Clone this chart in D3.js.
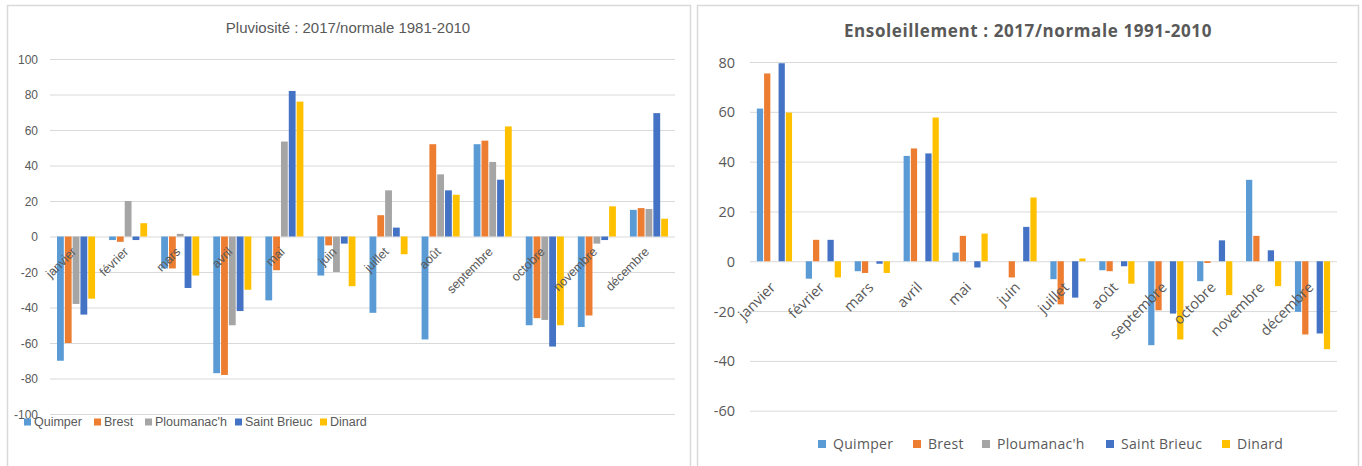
<!DOCTYPE html>
<html><head><meta charset="utf-8">
<script src="https://cdn.jsdelivr.net/npm/d3@7"></script>
<style>
html,body{margin:0;padding:0;background:#fff;}
svg{display:block;}
</style></head>
<body>
<svg id="chart" width="1362" height="466"></svg>
<script>
// ---------- DATA ----------
const months = ["janvier","février","mars","avril","mai","juin","juillet","août","septembre","octobre","novembre","décembre"];
const stations = ["Quimper","Brest","Ploumanac'h","Saint Brieuc","Dinard"];
const stationColors = ["#5B9BD5","#ED7D31","#A5A5A5","#4472C4","#FFC000"];

// Pluviosité : 2017 / normale 1981-2010 (%)
const rainQuimper     = [-70, -2, -18, -77, -36, -22, -43, -58, 52, -50, -51, 15];
const rainBrest       = [-60, -3, -18, -78, -19, -5, 12, 52, 54, -46, -44.5, 16];
const rainPloumanach  = [-38, 20, 1.5, -50, 53.5, -20, 26, 35, 42, -47, -4, 15.5];
const rainSaintBrieuc = [-44, -2, -29, -42, 82, -4, 5, 26, 32, -62, -2, 69.5];
const rainDinard      = [-35, 7.5, -22, -30, 76, -28, -10, 23.5, 62, -50, 17, 10];
const rainTicks = [100, 80, 60, 40, 20, 0, -20, -40, -60, -80, -100];

// Ensoleillement : 2017 / normale 1991-2010 (%)
const sunQuimper     = [61.3, -7, -4, 42.3, 3.5, null, -7.2, -3.6, -33.7, -8, 32.7, -20.3];
const sunBrest       = [75.4, 8.6, -4.7, 45.3, 10.2, -6.5, -17.3, -4, -19.7, -0.7, 10.2, -29.4];
const sunPloumanach  = [null, null, null, null, null, null, null, null, null, null, null, null];
const sunSaintBrieuc = [79.5, 8.6, -1, 43.3, -2.5, 13.8, -14.6, -2, -21, 8.4, 4.4, -29];
const sunDinard      = [59.7, -6.5, -4.7, 57.7, 11.1, 25.6, 1.1, -9, -31.4, -13.6, -10, -35.3];
const sunTicks = [80, 60, 40, 20, 0, -20, -40, -60];

const rainSeries = [rainQuimper, rainBrest, rainPloumanach, rainSaintBrieuc, rainDinard];
const sunSeries  = [sunQuimper, sunBrest, sunPloumanach, sunSaintBrieuc, sunDinard];

// ---------- DRAW ----------
const svg = d3.select("#chart");
const textCol = "#595959";

function drawChart(cfg) {
  const g = svg.append("g");
  // panel border
  g.append("rect").attr("x", cfg.panel[0] + 0.5).attr("y", cfg.panel[1] + 0.5)
    .attr("width", cfg.panel[2]).attr("height", cfg.panel[3])
    .attr("fill", "#fff").attr("stroke", "#d9d9d9").attr("stroke-width", 1.5);

  const x0 = d3.scaleBand().domain(months).range([cfg.left, cfg.right]).paddingInner(0).paddingOuter(0);
  const x1 = d3.scaleBand().domain(stations)
    .range([x0.bandwidth() * cfg.gapFrac, x0.bandwidth() * (1 - cfg.gapFrac)]);
  const y = d3.scaleLinear().domain(cfg.domain).range([cfg.bottom, cfg.top]);

  // gridlines
  const grid = g.append("g").attr("transform", `translate(${cfg.left},0)`)
    .call(d3.axisLeft(y).tickValues(cfg.ticks).tickSize(-(cfg.right - cfg.left)).tickFormat(""));
  grid.select(".domain").remove();
  grid.selectAll("line").attr("stroke", "#d9d9d9").attr("stroke-width", 1);

  // y tick labels (plain hyphen minus as in the original)
  const ya = g.append("g").attr("transform", `translate(${cfg.tickX},0)`)
    .call(d3.axisLeft(y).tickValues(cfg.ticks).tickSize(0).tickPadding(0).tickFormat(d => String(d)));
  ya.select(".domain").remove();
  ya.selectAll("text").attr("fill", textCol).attr("font-family", cfg.font)
    .attr("font-size", cfg.tickSize).attr("dy", "0.35em");

  // bars
  cfg.series.forEach((vals, si) => {
    g.append("g").selectAll("rect")
      .data(months.map((m, i) => ({ m, v: vals[i] })).filter(d => d.v !== null))
      .join("rect")
      .attr("x", d => x0(d.m) + x1(stations[si]) + 0.5)
      .attr("width", x1.bandwidth() - 1)
      .attr("y", d => y(Math.max(0, d.v)))
      .attr("height", d => Math.abs(y(d.v) - y(0)))
      .attr("fill", stationColors[si]);
  });

  // x labels (rotated, at zero line)
  g.append("g").selectAll("text").data(months).join("text")
    .attr("transform", m => `translate(${x0(m) + x0.bandwidth() / 2 + cfg.labDx},${y(0) + cfg.labDy}) rotate(-45)`)
    .attr("text-anchor", "end")
    .attr("fill", textCol).attr("font-family", cfg.font).attr("font-size", cfg.labSize)
    .text(m => m);

  // title
  g.append("text").attr("x", cfg.titleX).attr("y", cfg.titleY).attr("text-anchor", "middle")
    .attr("fill", textCol).attr("font-family", cfg.titleFont).attr("font-size", cfg.titleSize)
    .attr("font-weight", cfg.titleWeight).attr("letter-spacing", cfg.titleSpacing).text(cfg.title);

  // legend
  const lg = g.append("g");
  stations.forEach((s, i) => {
    const lx = cfg.legendX[i];
    lg.append("rect").attr("x", lx).attr("y", cfg.legendY - cfg.sq / 2)
      .attr("width", cfg.sq).attr("height", cfg.sq).attr("fill", stationColors[i]);
    lg.append("text").attr("x", lx + cfg.sq + cfg.legendGap).attr("y", cfg.legendY).attr("dy", "0.35em")
      .attr("fill", textCol).attr("font-family", cfg.font).attr("font-size", cfg.legendSize)
      .attr("letter-spacing", cfg.legendSpacing).text(s);
  });
}

drawChart({
  panel: [7, 5, 683, 470],
  left: 50, right: 675, top: 59, bottom: 414,
  domain: [-100, 100], ticks: rainTicks, series: rainSeries,
  gapFrac: 0.125,
  tickX: 38, tickSize: 12,
  font: "'Liberation Sans Narrow','Liberation Sans',sans-serif",
  labDx: 1, labDy: 16, labSize: 12.5,
  title: "Pluviosité : 2017/normale 1981-2010",
  titleX: 348, titleY: 33, titleSize: 15, titleWeight: "normal", titleSpacing: 0,
  titleFont: "'Liberation Sans Narrow','Liberation Sans',sans-serif",
  legendX: [24, 94, 145, 235, 320], legendY: 422, sq: 7, legendGap: 3, legendSize: 12.5, legendSpacing: 0
});

drawChart({
  panel: [697, 5, 661, 470],
  left: 750, right: 1337, top: 62, bottom: 410.7,
  domain: [-60, 80], ticks: sunTicks, series: sunSeries,
  gapFrac: 0.13,
  tickX: 735, tickSize: 14.5,
  font: "'Open Sans','DejaVu Sans',sans-serif",
  labDx: 2, labDy: 27, labSize: 14.5,
  title: "Ensoleillement : 2017/normale 1991-2010",
  titleX: 1028, titleY: 37, titleSize: 17, titleWeight: "bold", titleSpacing: 0.6,
  titleFont: "'Open Sans','DejaVu Sans',sans-serif",
  legendX: [818, 913, 982, 1106, 1222], legendY: 444, sq: 8, legendGap: 7, legendSize: 14, legendSpacing: 0.3
});
</script>
</body></html>
